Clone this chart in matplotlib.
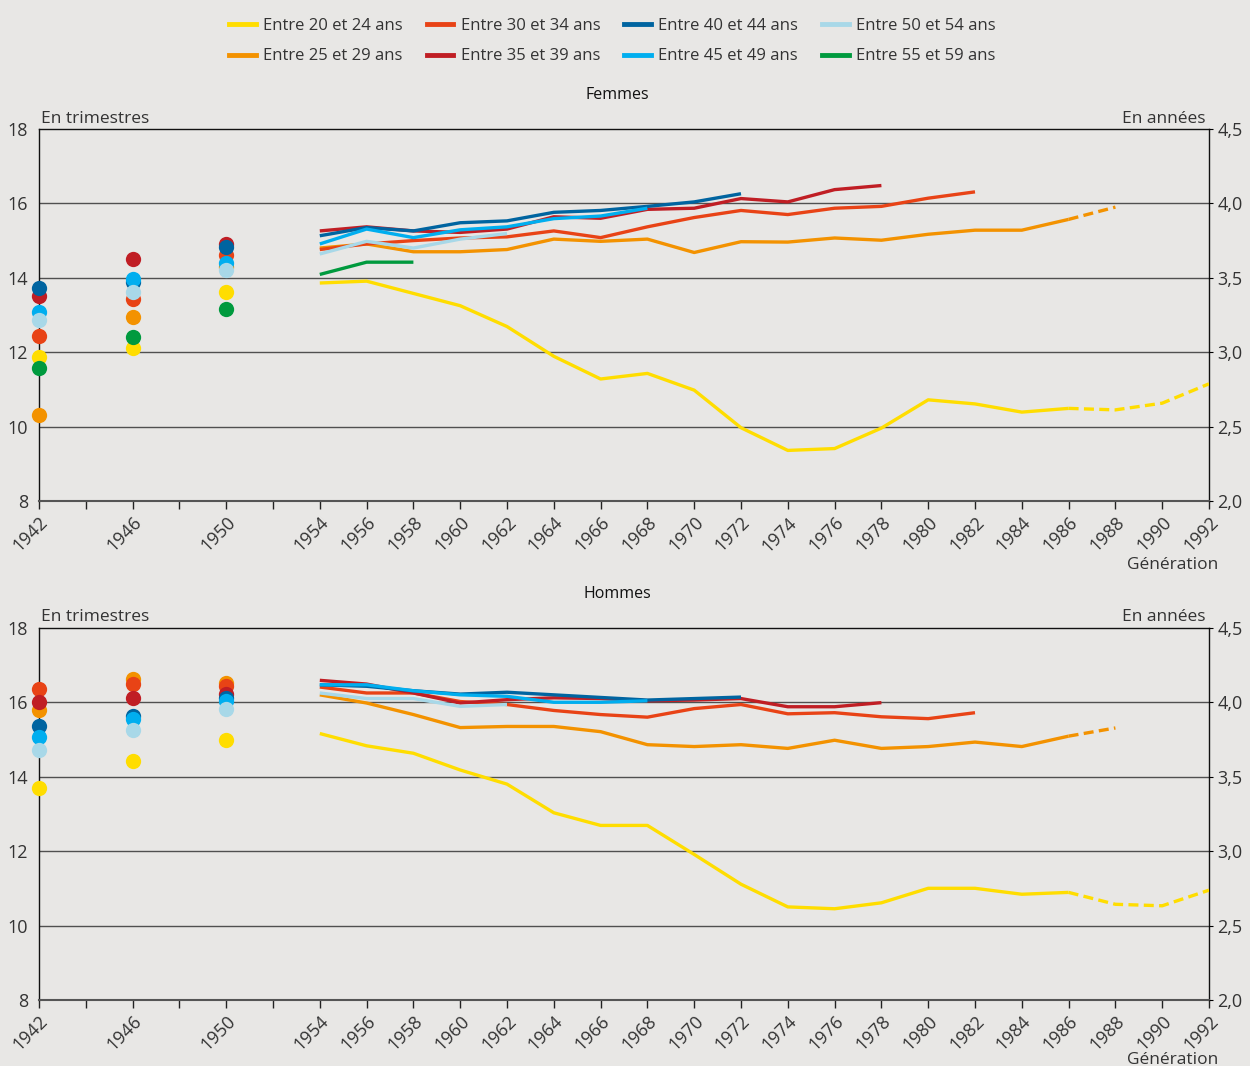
"""Durée de travail par tranche d'âge et par génération (Femmes / Hommes)."""
import numpy as np
import matplotlib
matplotlib.use("Agg")
import matplotlib.pyplot as plt

plt.rcParams["font.family"] = ["Open Sans", "DejaVu Sans"]

GROUPS = ["Entre 20 et 24 ans", "Entre 25 et 29 ans", "Entre 30 et 34 ans",
          "Entre 35 et 39 ans", "Entre 40 et 44 ans", "Entre 45 et 49 ans",
          "Entre 50 et 54 ans", "Entre 55 et 59 ans"]
COLORS = ["#ffdd00", "#f39200", "#e84316", "#c01e24",
          "#0064a0", "#00aeef", "#a8d8e8", "#009a3e"]

DOT_YEARS = [1942, 1946, 1950]
LINE_YEARS = list(range(1954, 1993, 2))
PROJ_FROM = 1986  # au-delà : projection (pointillés)

# Femmes : points 1942/1946/1950 puis courbes à partir de 1954
F_DOTS_20 = [11.87, 12.10, 13.61]
F_DOTS_25 = [10.30, 12.95, 14.29]
F_DOTS_30 = [12.43, 13.44, 14.62]
F_DOTS_35 = [13.50, 14.51, 14.91]
F_DOTS_40 = [13.73, 13.90, 14.84]
F_DOTS_45 = [13.08, 13.97, 14.40]
F_DOTS_50 = [12.86, 13.63, 14.22]
F_DOTS_55 = [11.58, 12.40, 13.16]

F_LINE_20 = [13.86, 13.91, 13.58, 13.25, 12.69, 11.89, 11.28, 11.43, 10.98, 9.97,
             9.36, 9.41, 9.96, 10.72, 10.61, 10.39, 10.49, 10.45, 10.63, 11.15]
F_LINE_25 = [14.80, 14.91, 14.70, 14.70, 14.76, 15.04, 14.98, 15.04, 14.68, 14.97,
             14.96, 15.07, 15.01, 15.17, 15.28, 15.28, 15.57, 15.90]
F_LINE_30 = [14.76, 14.91, 15.00, 15.07, 15.10, 15.26, 15.08, 15.37, 15.62, 15.81,
             15.70, 15.87, 15.92, 16.14, 16.31]
F_LINE_35 = [15.26, 15.37, 15.26, 15.22, 15.31, 15.64, 15.60, 15.84, 15.87, 16.13,
             16.04, 16.37, 16.48]
F_LINE_40 = [15.13, 15.35, 15.26, 15.48, 15.53, 15.76, 15.81, 15.92, 16.04, 16.26]
F_LINE_45 = [14.91, 15.31, 15.08, 15.29, 15.37, 15.59, 15.66, 15.87]
F_LINE_50 = [14.64, 14.98, 14.80, 15.04, 15.19]
F_LINE_55 = [14.09, 14.42, 14.42]

# Hommes
H_DOTS_20 = [13.70, 14.42, 14.98]
H_DOTS_25 = [15.78, 16.63, 16.53]
H_DOTS_30 = [16.36, 16.49, 16.45]
H_DOTS_35 = [16.01, 16.11, 16.22]
H_DOTS_40 = [15.35, 15.62, 16.12]
H_DOTS_45 = [15.07, 15.56, 16.03]
H_DOTS_50 = [14.72, 15.26, 15.83]
H_DOTS_55 = []

H_LINE_20 = [15.16, 14.83, 14.63, 14.18, 13.80, 13.03, 12.69, 12.69, 11.91, 11.11,
             10.50, 10.45, 10.61, 11.00, 11.00, 10.84, 10.89, 10.57, 10.53, 10.95]
H_LINE_25 = [16.20, 15.98, 15.67, 15.32, 15.35, 15.35, 15.21, 14.86, 14.81, 14.86,
             14.76, 14.98, 14.76, 14.81, 14.93, 14.81, 15.09, 15.31]
H_LINE_30 = [16.41, 16.25, 16.25, 16.02, 15.94, 15.78, 15.67, 15.60, 15.83, 15.94,
             15.69, 15.72, 15.61, 15.56, 15.72]
H_LINE_35 = [16.59, 16.49, 16.25, 15.98, 16.07, 16.12, 16.10, 16.04, 16.06, 16.10,
             15.88, 15.88, 15.99]
H_LINE_40 = [16.47, 16.43, 16.31, 16.22, 16.27, 16.20, 16.13, 16.06, 16.10, 16.14]
H_LINE_45 = [16.47, 16.47, 16.31, 16.20, 16.16, 16.00, 16.00, 16.04]
H_LINE_50 = [16.25, 16.10, 16.10, 15.89, 15.94]
H_LINE_55 = []

FEMMES = (
    [F_DOTS_20, F_DOTS_25, F_DOTS_30, F_DOTS_35, F_DOTS_40, F_DOTS_45, F_DOTS_50, F_DOTS_55],
    [F_LINE_20, F_LINE_25, F_LINE_30, F_LINE_35, F_LINE_40, F_LINE_45, F_LINE_50, F_LINE_55],
)
HOMMES = (
    [H_DOTS_20, H_DOTS_25, H_DOTS_30, H_DOTS_35, H_DOTS_40, H_DOTS_45, H_DOTS_50, H_DOTS_55],
    [H_LINE_20, H_LINE_25, H_LINE_30, H_LINE_35, H_LINE_40, H_LINE_45, H_LINE_50, H_LINE_55],
)

BG = "#e8e7e5"
TXT = "#333333"
LABELED = [1942, 1946, 1950] + list(range(1954, 1993, 2))
FS = 12.5


def draw_panel(ax, dots, lines, title, gen_y):
    ax.set_facecolor(BG)
    for y in (10, 12, 14, 16):
        ax.axhline(y, color="#505050", lw=1.0, zorder=1)

    for vals, col in zip(lines, COLORS):
        if not vals:
            continue
        yrs = np.array(LINE_YEARS[:len(vals)])
        v = np.array(vals)
        solid = yrs <= PROJ_FROM
        ax.plot(yrs[solid], v[solid], color=col, lw=2.4, zorder=3,
                solid_capstyle="butt")
        if yrs[-1] > PROJ_FROM:
            proj = yrs >= PROJ_FROM
            ax.plot(yrs[proj], v[proj], color=col, lw=2.4, zorder=3,
                    dashes=(3, 1.6), dash_capstyle="butt")

    for vals, col in zip(dots, COLORS):
        if not vals:
            continue
        ax.plot(DOT_YEARS[:len(vals)], vals, "o", color=col, ms=11,
                mec="none", zorder=4, clip_on=False)

    ax.set_xlim(1942, 1992)
    ax.set_ylim(8, 18)
    ax.set_xticks(range(1942, 1993, 2))
    ax.set_xticklabels([str(y) if y in LABELED else "" for y in range(1942, 1993, 2)],
                       rotation=45, ha="right", rotation_mode="anchor",
                       fontsize=13, color=TXT)
    ax.tick_params(axis="x", length=6, width=1, color="#222222", pad=3)
    ax.set_yticks([8, 10, 12, 14, 16, 18])
    ax.tick_params(axis="y", length=0, pad=8, labelsize=13, labelcolor=TXT)
    for side in ("left", "right", "top"):
        ax.spines[side].set_color("#111111")
        ax.spines[side].set_linewidth(1.0)
    ax.spines["bottom"].set_color("#555555")
    ax.spines["bottom"].set_linewidth(1.5)

    ax2 = ax.twinx()
    ax2.set_ylim(2, 4.5)
    ticks = [2.0, 2.5, 3.0, 3.5, 4.0, 4.5]
    ax2.set_yticks(ticks)
    ax2.set_yticklabels([f"{t:.1f}".replace(".", ",") for t in ticks])
    ax2.tick_params(axis="y", length=3, pad=3, labelsize=13, labelcolor=TXT)
    for s in ax2.spines.values():
        s.set_visible(False)

    ax.text(0.002, 1.028, "En trimestres", transform=ax.transAxes,
            ha="left", va="center", fontsize=FS, color=TXT)
    ax.text(0.9966, 1.028, "En années", transform=ax.transAxes,
            ha="right", va="center", fontsize=FS, color=TXT)
    ax.text(1.008, gen_y, "Génération", transform=ax.transAxes,
            ha="right", va="center", fontsize=FS, color=TXT)
    ax.text(0.494, 1.092, title, transform=ax.transAxes,
            ha="center", va="center", fontsize=11.5, color="#111111")


def main():
    fig = plt.figure(figsize=(12.5, 10.66), dpi=100)
    fig.patch.set_facecolor(BG)

    ax_f = fig.add_axes([0.0312, 0.530, 0.936, 0.349])
    ax_h = fig.add_axes([0.0312, 0.062, 0.936, 0.349])
    draw_panel(ax_f, *FEMMES, "Femmes", -0.172)
    draw_panel(ax_h, *HOMMES, "Hommes", -0.161)

    handles = [plt.Line2D([], [], color=c, lw=3.5) for c in COLORS]
    fig.legend(handles, GROUPS, loc="upper center", bbox_to_anchor=(0.49, 0.997),
               ncol=4, frameon=False, fontsize=12, handlelength=1.6,
               handletextpad=0.45, columnspacing=1.42, labelspacing=0.85,
               labelcolor=TXT)

    fig.savefig("out.png", dpi=100, facecolor=BG)
    plt.close(fig)


if __name__ == "__main__":
    main()
